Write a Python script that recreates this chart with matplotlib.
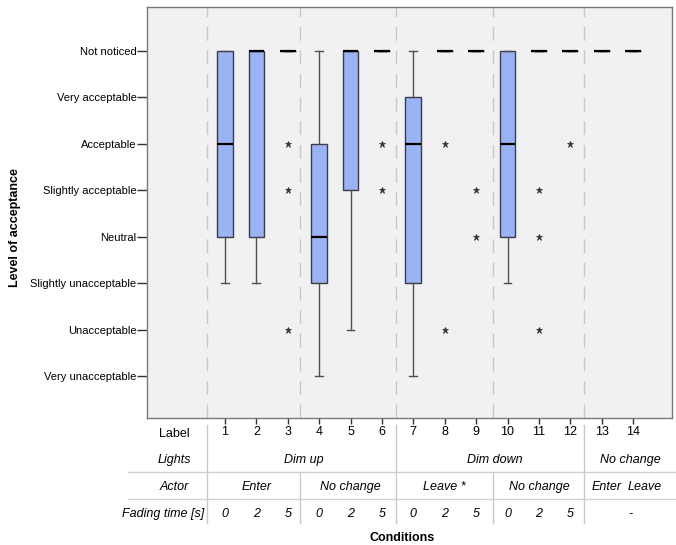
import matplotlib
matplotlib.use("Agg")
import matplotlib.pyplot as plt
from matplotlib.transforms import blended_transform_factory

plt.rcParams['font.family'] = ['Liberation Sans', 'DejaVu Sans']

# ---------------- data ----------------
conditions = list(range(1, 15))
level_values = [1, 2, 3, 4, 5, 6, 7, 8]
level_labels = ["Very unacceptable", "Unacceptable", "Slightly unacceptable", "Neutral",
                "Slightly acceptable", "Acceptable", "Very acceptable", "Not noticed"]

medians    = [6, 8, 8, 4, 8, 8, 6, 8, 8, 6, 8, 8, 8, 8]
q1         = [4, 4, 8, 3, 5, 8, 3, 8, 8, 4, 8, 8, 8, 8]
q3         = [8, 8, 8, 6, 8, 8, 7, 8, 8, 8, 8, 8, 8, 8]
whisker_lo = [3, 3, 8, 1, 2, 8, 1, 8, 8, 3, 8, 8, 8, 8]
whisker_hi = [8, 8, 8, 8, 8, 8, 8, 8, 8, 8, 8, 8, 8, 8]
outliers   = [[], [], [6, 5, 2], [], [], [6, 5], [], [6, 2], [5, 4], [], [5, 4, 2], [6], [], []]

lights_labels = ["Dim up", "Dim down", "No change"]
actor_labels = ["Enter", "No change", "Leave *", "No change", "Enter", "Leave"]
fading_labels = ["0", "2", "5", "0", "2", "5", "0", "2", "5", "0", "2", "5", "-"]

# ---------------- figure ----------------
W, H = 676, 545
fig = plt.figure(figsize=(W / 100, H / 100), dpi=100)
ax = fig.add_axes([147 / W, 1 - 418 / H, (672 - 147) / W, (418 - 7) / H])
ax.set_facecolor('#f1f1f3')

stats = []
for i in range(len(conditions)):
    stats.append(dict(med=medians[i], q1=q1[i], q3=q3[i], whislo=whisker_lo[i],
                      whishi=whisker_hi[i], fliers=outliers[i], label=str(conditions[i])))

ax.bxp(stats, positions=conditions, widths=0.5, patch_artist=True, showfliers=True,
       boxprops=dict(facecolor='#9ab3f5', edgecolor='#3c3c46', linewidth=1.0),
       medianprops=dict(color='black', linewidth=1.6),
       whiskerprops=dict(color='#505050', linewidth=1.0),
       capprops=dict(color='#505050', linewidth=1.0),
       capwidths=0.25,
       flierprops=dict(marker='*', markersize=5, markerfacecolor='#333333',
                       markeredgecolor='#333333', markeredgewidth=0.5, linestyle='none'),
       zorder=3)

sep_x = [0.43, 3.39, 6.45, 9.54, 12.43]
for x in sep_x:
    ax.axvline(x, color='#c8c8c8', linewidth=1.0, linestyle=(0, (10, 7)), zorder=1)

ax.set_xlim(-1.484, 15.24)
ax.set_ylim(0.095, 8.948)
ax.set_yticks(level_values)
ax.set_yticklabels(level_labels, fontsize=8)
ax.tick_params(axis='y', length=7, width=1, color='#333333', pad=0.5)
ax.set_xticks(conditions)
ax.set_xticklabels([str(c) for c in conditions], fontsize=9)
ax.tick_params(axis='x', length=4, width=1, color='#333333', pad=1.5)
for s in ax.spines.values():
    s.set_color('#7a7a7a')
    s.set_linewidth(1.0)

# ---------------- table under axes ----------------
trans = blended_transform_factory(ax.transData, fig.transFigure)

def fy(px):
    return 1 - px / H

# column centres of the table cells (in condition units)
lights_x = [3.5, 9.6, 13.9]
actor_x = [2.0, 5.0, 8.0, 11.0, 13.17, 14.38]
fading_x = [1, 2, 3, 4, 5, 6, 7, 8, 9, 10, 11, 12, 13.9]

# row headers
fig.text(174 / W, fy(437), "Label", fontsize=9, ha='center', va='baseline')
fig.text(174 / W, fy(463), "Lights", fontsize=9, ha='center', va='baseline', style='italic')
fig.text(174 / W, fy(490), "Actor", fontsize=9, ha='center', va='baseline', style='italic')
fig.text(163 / W, fy(517), "Fading time [s]", fontsize=9, ha='center', va='baseline', style='italic')

for lab, x in zip(lights_labels, lights_x):
    ax.text(x, fy(463), lab, transform=trans, fontsize=9, ha='center',
            va='baseline', style='italic')
for lab, x in zip(actor_labels, actor_x):
    ax.text(x, fy(490), lab, transform=trans, fontsize=9, ha='center',
            va='baseline', style='italic')
for lab, x in zip(fading_labels, fading_x):
    ax.text(x, fy(517), lab, transform=trans, fontsize=9, ha='center',
            va='baseline', style='italic')

# horizontal rules
for ypx in (472, 499):
    fig.add_artist(plt.Line2D([128 / W, 675 / W], [fy(ypx), fy(ypx)],
                              transform=fig.transFigure, color='#d0d0d0', linewidth=1.0))
# vertical rules
for x in (sep_x[0], sep_x[2], sep_x[4]):
    ax.plot([x, x], [fy(425), fy(523)], transform=trans, color='#c8c8c8',
            linewidth=1.0, clip_on=False)
for x in (sep_x[1], sep_x[3]):
    ax.plot([x, x], [fy(472), fy(523)], transform=trans, color='#c8c8c8',
            linewidth=1.0, clip_on=False)

fig.text(402 / W, fy(544), "Conditions", fontsize=9, fontweight='bold', ha='center', va='bottom')
fig.text(15 / W, fy(228), "Level of acceptance", fontsize=9, fontweight='bold',
         rotation=90, ha='center', va='center')

fig.savefig("out.png", dpi=100)
